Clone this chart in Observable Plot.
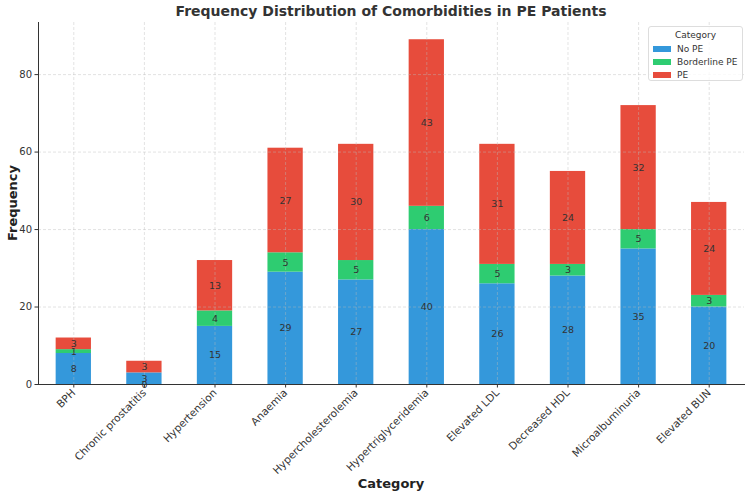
<!DOCTYPE html>
<html>
<head>
<meta charset="utf-8">
<script src="https://cdn.jsdelivr.net/npm/d3@7"></script>
<script src="https://cdn.jsdelivr.net/npm/@observablehq/plot@0.6"></script>
<style>
  html, body { margin: 0; padding: 0; background: #fff; }
  #wrap { position: relative; width: 750px; height: 498px; font-family: "DejaVu Sans", sans-serif; color: #333; }
  .title { position: absolute; top: 3px; left: 38px; width: 706px; text-align: center; font-weight: bold; font-size: 14px; color: #333; }
  .xlabel { position: absolute; top: 476px; left: 38px; width: 706px; text-align: center; font-weight: bold; font-size: 13px; color: #222; }
  .ylabel { position: absolute; left: 12px; top: 203px; transform: translate(-50%, -50%) rotate(-90deg); font-weight: bold; font-size: 13px; color: #222; white-space: nowrap; }
  .legend { position: absolute; left: 648px; top: 26px; width: 95px; height: 55px; border: 1px solid #ddd; border-radius: 3px; background: rgba(255,255,255,0.8); font-size: 9px; color: #333; box-sizing: border-box; white-space: nowrap; }
  .legend .lt { text-align: center; margin-top: 2px; line-height: 13px; }
  .legend .row { display: flex; align-items: center; height: 13px; margin-left: 4px; }
  .legend .sw { width: 18px; height: 6px; margin-right: 6px; flex: none; }
</style>
</head>
<body>
<div id="wrap">
  <div class="title">Frequency Distribution of Comorbidities in PE Patients</div>
  <div class="ylabel">Frequency</div>
  <div class="xlabel">Category</div>
</div>
<script>
const categories = ["BPH", "Chronic prostatitis", "Hypertension", "Anaemia", "Hypercholesterolemia", "Hypertriglyceridemia", "Elevated LDL", "Decreased HDL", "Microalbuminuria", "Elevated BUN"];
const seriesNames = ["No PE", "Borderline PE", "PE"];
const noPE = [8, 3, 15, 29, 27, 40, 26, 28, 35, 20];
const borderlinePE = [1, 0, 4, 5, 5, 6, 5, 3, 5, 3];
const pe = [3, 3, 13, 27, 30, 43, 31, 24, 32, 24];
const colors = ["#3498db", "#2ecc71", "#e74c3c"];
const yTicks = [0, 20, 40, 60, 80];

const seriesValues = [noPE, borderlinePE, pe];
const rows = [];
categories.forEach((c, i) => {
  let pos = 0;
  seriesValues.forEach((vals, s) => {
    const v = vals[i];
    // stacking like pandas: non-positive values start from the base
    const start = v > 0 ? pos : 0;
    rows.push({category: c, series: seriesNames[s], value: v, y1: start, y2: start + v, mid: start + v / 2});
    if (v > 0) pos += v;
  });
});
const maxTotal = d3.max(categories.map((c, i) => noPE[i] + borderlinePE[i] + pe[i]));

const chart = Plot.plot({
  width: 750,
  height: 498,
  marginTop: 22,
  marginBottom: 114,
  marginLeft: 38,
  marginRight: 6,
  style: {fontFamily: "DejaVu Sans, sans-serif", fontSize: "10px", color: "#333", background: "transparent"},
  x: {domain: categories, paddingInner: 0.5, paddingOuter: 0.25, round: false, label: null},
  y: {domain: [0, maxTotal * 1.05], label: null},
  color: {domain: seriesNames, range: colors},
  marks: [
    Plot.barY(rows, {x: "category", y1: "y1", y2: "y2", fill: "series"}),
    Plot.gridX({stroke: "#bbb", strokeOpacity: 0.6, strokeWidth: 0.7, strokeDasharray: "3,2"}),
    Plot.gridY(yTicks, {stroke: "#bbb", strokeOpacity: 0.6, strokeWidth: 0.7, strokeDasharray: "3,2"}),
    Plot.text(rows, {x: "category", y: "mid", text: d => String(d.value), fontSize: 9.5, fill: "#333"}),
    Plot.frame({anchor: "left", stroke: "#333", strokeWidth: 1}),
    Plot.frame({anchor: "bottom", stroke: "#333", strokeWidth: 1}),
    Plot.axisY({ticks: yTicks, tickSize: 3.5, tickPadding: 3, fontSize: 10, label: null, stroke: "#333"}),
    Plot.axisX({tickSize: 3.5, tickRotate: -45, tickPadding: 3, fontSize: 10.5, label: null, stroke: "#333"})
  ]
});
const wrap = document.getElementById("wrap");
wrap.insertBefore(chart, wrap.firstChild);
chart.style.position = "absolute";
chart.style.left = "0";
chart.style.top = "0";

const legend = document.createElement("div");
legend.className = "legend";
legend.innerHTML = `<div class="lt">Category</div>` + seriesNames.map((n, i) =>
  `<div class="row"><div class="sw" style="background:${colors[i]}"></div><span>${n}</span></div>`).join("");
wrap.appendChild(legend);
</script>
</body>
</html>
